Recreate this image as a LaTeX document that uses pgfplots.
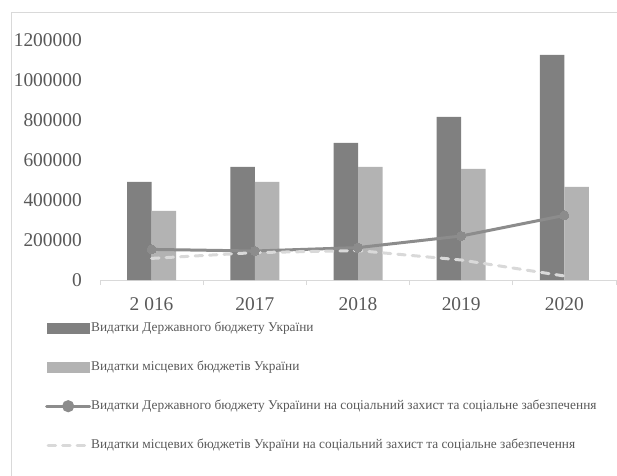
\documentclass[border=0pt]{standalone}
\usepackage{fontspec}
\setmainfont{Liberation Serif}
\usepackage{pgfplots}
\pgfplotsset{compat=1.18}

\definecolor{darkbar}{HTML}{808080}
\definecolor{lightbar}{HTML}{B3B3B3}
\definecolor{stateline}{HTML}{8C8C8C}
\definecolor{localline}{HTML}{D9D9D9}
\definecolor{framegray}{HTML}{D9D9D9}
\definecolor{txt}{HTML}{595959}

\begin{document}
\begin{tikzpicture}
\useasboundingbox (0,0) rectangle (617bp,476bp);
% chart frame (cut off at right and bottom)
\draw[framegray, line width=1bp] (11bp,-2bp) -- (11bp,463bp) -- (620bp,463bp);

\begin{axis}[
    at={(100bp,196bp)}, anchor=south west,
    scale only axis,
    width=516bp, height=240bp,
    xmin=-0.5, xmax=4.5,
    ymin=0, ymax=1200000,
    clip=false,
    axis x line*=bottom, axis y line*=left,
    x axis line style={framegray, line width=1bp, -},
    y axis line style={draw=none},
    xtick={0,1,2,3,4},
    xticklabels={2 016,2017,2018,2019,2020},
    ytick={0,200000,400000,600000,800000,1000000,1200000},
    scaled y ticks=false,
    /pgf/number format/fixed,
    /pgf/number format/1000 sep={},
    /pgf/number format/assume math mode=true,
    major tick length=0pt,
    extra x ticks={-0.5,0.5,1.5,2.5,3.5,4.5},
    extra x tick labels={},
    extra x tick style={major tick length=5bp, tick align=outside,
        tick style={framegray, line width=1bp}},
    ticklabel style={text=txt, font=\fontsize{19.5}{23}\selectfont},
    xticklabel style={anchor=north, inner sep=0pt, yshift=-17bp},
    yticklabel style={anchor=east, inner sep=0pt, xshift=-18bp},
    legend cell align=left,
    legend style={
        at={(-58bp,-39.5bp)}, anchor=north west,
        draw=none, fill=none,
        font=\fontsize{13.4}{16}\selectfont, text=txt,
        column sep=0bp, row sep=26bp,
        nodes={inner sep=0pt, text height=9.5bp, text depth=3.5bp},
    },
]

\addplot[ybar, bar width=24.5bp, bar shift=-12.25bp, fill=darkbar, draw=none,
    legend image code/.code={\fill[darkbar] (0bp,-5.5bp) rectangle (43bp,5.5bp);}]
    coordinates {(0,490000) (1,565000) (2,685000) (3,815000) (4,1125000)};
\addlegendentry{Видатки Державного бюджету України}

\addplot[ybar, bar width=24.5bp, bar shift=12.25bp, fill=lightbar, draw=none,
    legend image code/.code={\fill[lightbar] (0bp,-5.5bp) rectangle (43bp,5.5bp);}]
    coordinates {(0,345000) (1,490000) (2,565000) (3,555000) (4,465000)};
\addlegendentry{Видатки місцевих бюджетів України}

\addplot[stateline, line width=3bp, line cap=round,
    mark=*, mark size=4.5bp, mark options={solid, fill=stateline, draw=stateline, line width=0pt},
    legend image code/.code={
        \draw[stateline, line width=3bp, line cap=round] (0bp,0bp) -- (43bp,0bp);
        \fill[stateline] (21.5bp,0bp) circle (4.5bp);}]
    coordinates {(0,153000) (1,145000) (2,162000) (3,220000) (4,323000)};
\addlegendentry{Видатки Державного бюджету Україини на соціальний захист та соціальне забезпечення}

\addplot[localline, line width=3bp, line cap=round, dash pattern=on 7.5bp off 7bp,
    legend image code/.code={
        \draw[localline, line width=3bp, line cap=round, dash pattern=on 7.5bp off 7bp]
        (1.5bp,0bp) -- (43bp,0bp);}]
    coordinates {(0,108000) (1,137000) (2,147000) (3,100000) (4,20000)};
\addlegendentry{Видатки місцевих бюджетів України на соціальний захист та соціальне забезпечення}

\end{axis}
\end{tikzpicture}
\end{document}
